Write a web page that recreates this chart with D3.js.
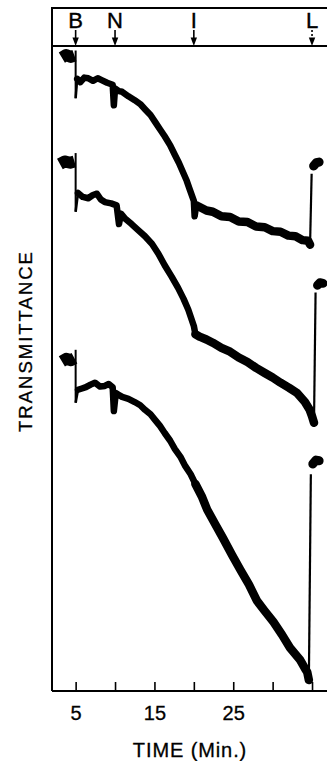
<!DOCTYPE html>
<html>
<head>
<meta charset="utf-8">
<script src="https://cdn.jsdelivr.net/npm/d3@7/dist/d3.min.js"></script>
<style>
  html, body { margin:0; padding:0; background:#fff; }
  svg { display:block; font-family:"Liberation Sans", Arial, Helvetica, sans-serif; }
</style>
</head>
<body>
<svg id="chart" width="327" height="761"></svg>
<script>
// ===== data (time in min, transmittance in arbitrary units) =====
const eventNames = ['B', 'N', 'I', 'L'];
const eventTimes = [5, 10, 20, 35];
const xTicks = [5, 10, 15, 20, 25, 30, 35];
const xTickLabels = [5, 15, 25];

// trace 1 (top)
const trace1Pre  = [[3.25,98.2],[3.8,98.6],[4.4,98.3],[4.85,98.5],[5.0,99.3]];
const trace1Main = [[5.0,91.9],[5.2,94.9],[5.6,94.4],[6.1,95.1],[6.6,95.0],[7.2,94.6],[7.8,95.0],[8.3,94.7],
  [9.0,94.3],[9.7,94.0],[9.85,90.8],[10.0,93.4],[10.5,93.0],[10.9,92.9],[11.7,92.2],[12.5,91.6],[13.2,91.0],
  [13.8,90.2],[14.5,89.3],[15.1,88.2],[15.7,87.1],[16.3,86.0],[17.0,84.6],[17.6,83.1],[18.1,81.9],[18.6,80.5],
  [19.1,79.1],[19.5,77.7],[20.0,76.0],[20.1,73.6],[20.3,75.3],[20.8,75.0],[21.6,74.5],[22.4,74.3],[23.5,73.6],
  [24.6,73.5],[25.7,72.8],[26.8,72.7],[27.9,72.0],[29.0,71.9],[30.0,71.3],[31.0,71.2],[32.0,70.6],[32.9,70.5],
  [33.8,69.9],[34.5,69.8],[34.75,69.2]];
const trace1Post = [[34.95,80.2],[35.2,81.4],[35.55,81.9],[35.9,82.0]];

// trace 2 (middle)
const trace2Pre  = [[3.0,81.7],[3.6,82.1],[4.3,81.9],[4.85,82.1],[5.0,83.4]];
const trace2Main = [[5.0,74.3],[5.3,77.2],[5.9,76.6],[6.6,76.4],[7.2,76.9],[7.7,77.1],[8.2,76.2],[8.7,75.8],
  [9.5,75.6],[10.2,75.3],[10.5,72.4],[10.75,74.0],[11.3,73.2],[12.1,72.4],[12.9,71.5],[13.8,70.5],[14.7,69.3],
  [15.5,67.8],[16.3,66.0],[17.2,64.2],[18.0,62.5],[18.7,60.8],[19.3,59.1],[20.0,56.6],[20.2,55.3],[20.8,54.9],
  [21.6,54.5],[22.4,54.0],[23.5,53.2],[24.6,52.6],[25.7,51.7],[26.8,51.0],[27.9,50.1],[29.0,49.3],[30.0,48.6],
  [31.0,47.8],[32.1,47.0],[33.1,46.2],[34.1,44.8],[34.7,43.6],[35.0,42.6],[35.25,41.6]];
const trace2Post = [[35.45,61.8],[35.7,62.9],[36.0,63.3],[36.4,63.2]];

// trace 3 (bottom)
const trace3Pre  = [[3.25,51.1],[3.8,51.5],[4.4,51.3],[4.85,51.6],[5.0,52.9]];
const trace3Main = [[5.0,44.7],[5.3,46.7],[5.8,46.9],[6.3,47.1],[6.9,47.5],[7.45,47.8],[8.1,47.2],[8.7,47.3],
  [9.2,47.6],[9.7,47.1],[9.85,43.4],[10.1,46.2],[10.5,45.9],[10.9,45.6],[11.7,45.3],[12.5,44.8],[13.2,44.3],
  [13.8,43.6],[14.5,42.9],[15.1,42.0],[15.7,41.1],[16.3,40.0],[17.0,38.8],[17.6,37.5],[18.3,36.3],[18.9,34.9],
  [19.6,33.6],[20.2,32.1],[21.0,30.2],[21.7,28.1],[22.7,25.9],[23.7,23.7],[24.85,21.1],[25.9,18.8],[27.0,16.5],
  [28.0,14.0],[29.0,12.4],[30.1,10.7],[31.2,8.7],[32.2,6.7],[33.5,4.8],[34.1,3.5],[34.4,2.9],[34.6,1.7]];
const trace3Post = [[34.85,33.6],[35.1,35.2],[35.5,35.8],[35.9,35.7]];

const traces = [
  {pre: trace1Pre, main: trace1Main, post: trace1Post},
  {pre: trace2Pre, main: trace2Main, post: trace2Post},
  {pre: trace3Pre, main: trace3Main, post: trace3Post}
];

// ===== layout =====
const svg = d3.select('#chart');
const frameL = 52, frameR = 330, stripTop = 8, stripBot = 46, axisY = 691;

const x = d3.scaleLinear().domain([2, 36.9]).range([52, 327]);
const y = d3.scaleLinear().domain([0, 100]).range([axisY, stripBot]);

const line = d3.line().x(d => x(d[0])).y(d => y(d[1]));

// frame: top strip + left edge
svg.append('line').attr('x1', frameL).attr('x2', frameR).attr('y1', stripTop).attr('y2', stripTop)
  .attr('stroke', '#000').attr('stroke-width', 2);
svg.append('line').attr('x1', frameL).attr('x2', frameR).attr('y1', stripBot).attr('y2', stripBot)
  .attr('stroke', '#000').attr('stroke-width', 2);
svg.append('line').attr('x1', frameL).attr('x2', frameL).attr('y1', stripTop - 1).attr('y2', axisY)
  .attr('stroke', '#000').attr('stroke-width', 2);

// event markers
const gEv = svg.append('g');
eventNames.forEach((name, i) => {
  const ex = x(eventTimes[i]);
  gEv.append('text').attr('x', ex).attr('y', 27.5).attr('text-anchor', 'middle')
    .style('font-size', '22px').attr('stroke', '#000').attr('stroke-width', 0.4).text(name);
  gEv.append('line').attr('x1', ex).attr('x2', ex).attr('y1', 30).attr('y2', 40)
    .attr('stroke', '#000').attr('stroke-width', 1.6)
    .attr('stroke-dasharray', name === 'L' ? '2,2' : null);
  gEv.append('path')
    .attr('d', `M${ex - 3.2},37.5 L${ex + 3.2},37.5 L${ex},${stripBot} Z`)
    .attr('fill', '#000');
});

// x axis with inward ticks
const xAxis = d3.axisBottom(x)
  .tickValues(xTicks)
  .tickSize(-9)
  .tickSizeOuter(0)
  .tickPadding(15)
  .tickFormat(d => xTickLabels.includes(d) ? d : '');
const gx = svg.append('g').attr('transform', `translate(0,${axisY})`).call(xAxis);
gx.select('.domain').attr('stroke-width', 2).attr('d', `M${frameL},0H${frameR}`);
gx.selectAll('.tick line').attr('stroke-width', 1.6);
gx.selectAll('.tick text').style('font-size', '20px')
  .style('font-family', '"Liberation Sans", Arial, sans-serif').attr('fill', '#000')
  .attr('stroke', '#000').attr('stroke-width', 0.3);

// axis titles
svg.append('text').attr('x', 190).attr('y', 757).attr('text-anchor', 'middle')
  .style('font-size', '20px').style('letter-spacing', '0.9px')
  .attr('stroke', '#000').attr('stroke-width', 0.3).text('TIME (Min.)');
svg.append('text').attr('transform', 'translate(32,341) rotate(-90)').attr('text-anchor', 'middle')
  .style('font-size', '18.5px').style('letter-spacing', '2px')
  .attr('stroke', '#000').attr('stroke-width', 0.3).text('TRANSMITTANCE');

// traces
const gT = svg.append('g');
traces.forEach(tr => {
  const preEnd = tr.pre[tr.pre.length - 1];
  // thin jumps at B and L
  gT.append('path').attr('d', line([preEnd, tr.main[0]]))
    .attr('stroke', '#000').attr('stroke-width', 2).attr('fill', 'none');
  gT.append('path').attr('d', line([tr.main[tr.main.length - 1], tr.post[0]]))
    .attr('stroke', '#000').attr('stroke-width', 2.2).attr('fill', 'none');
  // blobs before B and after L
  gT.append('path').attr('d', line(tr.pre.slice(0, -1)))
    .attr('stroke', '#000').attr('stroke-width', 12).attr('fill', 'none')
    .attr('stroke-linejoin', 'round');
  gT.append('path').attr('d', line(tr.post.slice(1)))
    .attr('stroke', '#000').attr('stroke-width', 9).attr('fill', 'none')
    .attr('stroke-linejoin', 'round').attr('stroke-linecap', 'round');
  // main noisy record
  gT.append('path').attr('d', line(tr.main.slice(1)))
    .attr('stroke', '#000').attr('stroke-width', 6.5).attr('fill', 'none')
    .attr('stroke-linejoin', 'round').attr('stroke-linecap', 'round');
  gT.append('path').attr('d', line(tr.main.slice(0, 2)))
    .attr('stroke', '#000').attr('stroke-width', 2.5).attr('fill', 'none');
  // record gets wider after I
  gT.append('path').attr('d', line(tr.main.filter(d => d[0] >= 20.2)))
    .attr('stroke', '#000').attr('stroke-width', 8.5).attr('fill', 'none')
    .attr('stroke-linejoin', 'round').attr('stroke-linecap', 'round');
});
</script>
</body>
</html>
